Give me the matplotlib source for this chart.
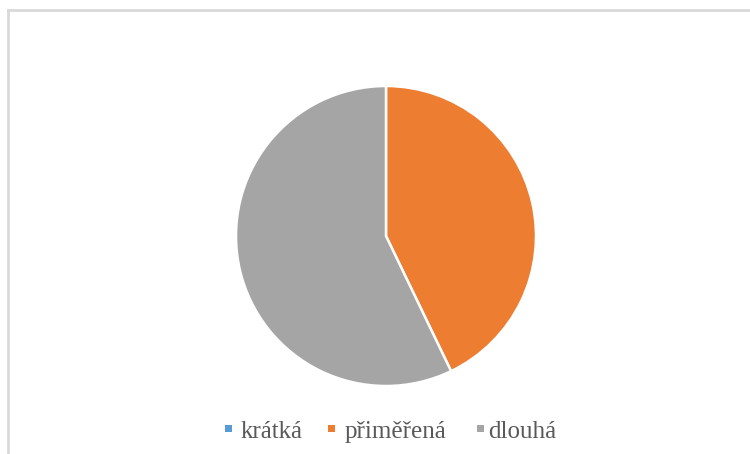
import matplotlib
matplotlib.use("Agg")
import matplotlib.pyplot as plt
from matplotlib.patches import Rectangle
from matplotlib.lines import Line2D

categories = ["krátká", "přiměřená", "dlouhá"]
values = [0, 30, 40]
colors = ["#5B9BD5", "#ED7D31", "#A5A5A5"]

W, H = 750, 454
fig = plt.figure(figsize=(W / 100, H / 100), dpi=100)
fig.patch.set_facecolor("white")

# chart area frame (top and left edges visible)
fig.add_artist(Line2D([8 / W, 1], [1 - 9.5 / H, 1 - 9.5 / H], color="#D9D9D9", lw=2.0))
fig.add_artist(Line2D([8 / W, 8 / W], [0, 1 - 9.5 / H], color="#D9D9D9", lw=2.0))

# pie
cx, cy, r = 386, 236, 150
ax = fig.add_axes([(cx - r) / W, 1 - (cy + r) / H, 2 * r / W, 2 * r / H])
ax.pie(values, colors=colors, startangle=90, counterclock=False,
       wedgeprops=dict(edgecolor="white", linewidth=1.8))
ax.set_xlim(-1, 1)
ax.set_ylim(-1, 1)
ax.set_aspect("equal")
ax.axis("off")

# legend
marker_x = [228.5, 331.5, 480]
text_x = [241, 345, 488]
baseline = 438
for name, col, mx, tx in zip(categories, colors, marker_x, text_x):
    s = 7
    fig.add_artist(Rectangle(((mx - s / 2) / W, 1 - (428.5 + s / 2) / H), s / W, s / H,
                             facecolor=col, edgecolor="none", transform=fig.transFigure))
    fig.text(tx / W, 1 - baseline / H, name, fontsize=18, family="Liberation Serif",
             color="#595959", va="baseline", ha="left")

fig.savefig("out.png", dpi=100, facecolor="white")
